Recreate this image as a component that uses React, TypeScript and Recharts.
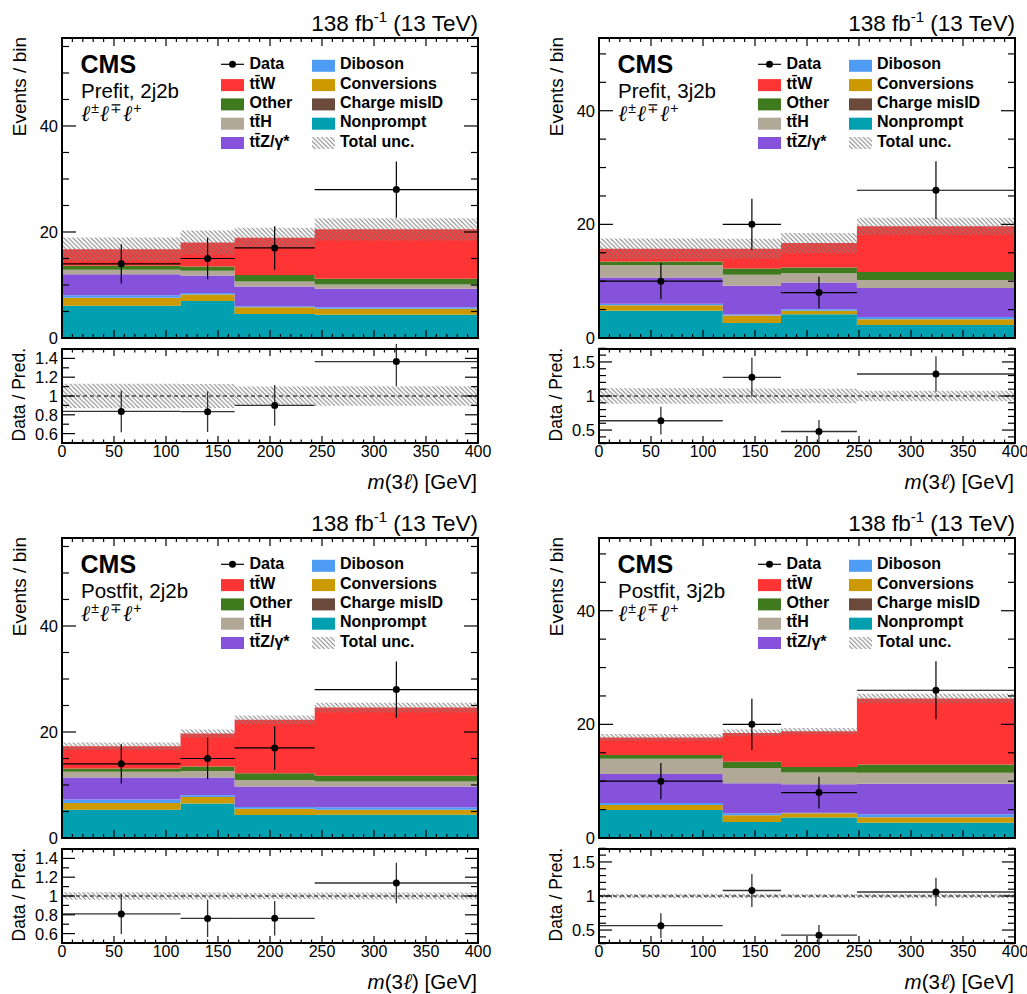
import React from 'react';
import { ComposedChart, Area, Scatter, ErrorBar, XAxis, YAxis, ReferenceLine } from 'recharts';

// ---------------- bin edges (GeV) ----------------
const edges2j2b = [0, 114, 166, 243, 400];
const edges3j2b = [0, 119, 175, 248, 400];

// ---------------- Prefit 2j2b ----------------
const pre2jNonprompt = [6.1, 7.0, 4.55, 4.4];
const pre2jChargeMisID = [0, 0, 0, 0];
const pre2jConversions = [1.5, 1.2, 1.25, 1.1];
const pre2jDiboson = [0.45, 0.3, 0.2, 0.3];
const pre2jTTZ = [4.0, 3.3, 3.7, 3.5];
const pre2jTTH = [0.85, 0.9, 0.95, 0.8];
const pre2jOther = [0.75, 0.8, 1.25, 1.1];
const pre2jTTW = [3.1, 4.5, 7.0, 9.3];
const pre2jUnc = [2.2, 2.3, 1.9, 2.1];

// ---------------- Prefit 3j2b ----------------
const pre3jNonprompt = [4.8, 2.65, 4.2, 2.3];
const pre3jChargeMisID = [0, 0, 0, 0];
const pre3jConversions = [0.95, 1.3, 0.6, 1.0];
const pre3jDiboson = [0.3, 0.2, 0.25, 0.4];
const pre3jTTZ = [4.6, 5.05, 4.7, 5.1];
const pre3jTTH = [2.2, 1.95, 1.65, 1.4];
const pre3jOther = [0.6, 1.1, 1.0, 1.4];
const pre3jTTW = [2.25, 3.45, 4.3, 8.05];
const pre3jUnc = [1.8, 1.75, 1.8, 1.5];

// ---------------- Postfit 2j2b ----------------
const post2jNonprompt = [5.35, 6.5, 4.35, 4.4];
const post2jChargeMisID = [0, 0, 0, 0];
const post2jConversions = [1.25, 1.25, 1.15, 0.95];
const post2jDiboson = [0.65, 0.3, 0.35, 0.45];
const post2jTTZ = [4.15, 3.35, 3.85, 3.9];
const post2jTTH = [1.1, 1.25, 1.25, 0.95];
const post2jOther = [0.6, 0.85, 1.25, 1.1];
const post2jTTW = [4.2, 6.2, 10.1, 12.85];
const post2jUnc = [0.7, 0.75, 0.8, 0.9];

// ---------------- Postfit 3j2b ----------------
const post3jNonprompt = [4.95, 2.8, 3.6, 2.7];
const post3jChargeMisID = [0, 0, 0, 0];
const post3jConversions = [0.85, 1.2, 0.75, 0.95];
const post3jDiboson = [0.35, 0.35, 0.1, 0.55];
const post3jTTZ = [5.1, 5.3, 5.0, 5.35];
const post3jTTH = [2.7, 2.65, 2.1, 1.95];
const post3jOther = [0.65, 1.1, 0.95, 1.45];
const post3jTTW = [3.1, 5.1, 6.3, 11.6];
const post3jUnc = [0.6, 0.6, 0.55, 0.85];

// ---------------- observed data ----------------
const data2j2b = [14, 15, 17, 28];
const data2j2bErr = [3.7, 3.9, 4.1, 5.3];
const data3j2b = [10, 20, 8, 26];
const data3j2bErr = [3.2, 4.5, 2.8, 5.1];

// ---------------- ticks ----------------
const xTicks = [0, 10, 20, 30, 40, 50, 60, 70, 80, 90, 100, 110, 120, 130, 140, 150, 160, 170, 180, 190, 200,
  210, 220, 230, 240, 250, 260, 270, 280, 290, 300, 310, 320, 330, 340, 350, 360, 370, 380, 390, 400];
const xLabels = [0, 50, 100, 150, 200, 250, 300, 350, 400];
const mainYTicks2j = [0, 5, 10, 15, 20, 25, 30, 35, 40, 45, 50, 55];
const mainYTicks3j = [0, 5, 10, 15, 20, 25, 30, 35, 40, 45, 50];
const mainYLabels = [0, 20, 40];
const ratioTicks2j = [0.5, 0.6, 0.7, 0.8, 0.9, 1, 1.1, 1.2, 1.3, 1.4, 1.5];
const ratioLabels2j = [0.6, 0.8, 1, 1.2, 1.4];
const ratioTicks3j = [0.3, 0.4, 0.5, 0.6, 0.7, 0.8, 0.9, 1, 1.1, 1.2, 1.3, 1.4, 1.5, 1.6, 1.7];
const ratioLabels3j = [0.5, 1, 1.5];

// ---------------- legend ----------------
const legendCol1 = ['Data', 'tt\u0304W', 'Other', 'tt\u0304H', 'tt\u0304Z/\u03b3*'];
const legendCol1Keys = ['data', 'ttW', 'other', 'ttH', 'ttZ'];
const legendCol2 = ['Diboson', 'Conversions', 'Charge misID', 'Nonprompt', 'Total unc.'];
const legendCol2Keys = ['diboson', 'conversions', 'chargeMisID', 'nonprompt', 'unc'];

const KEYS = ['nonprompt', 'chargeMisID', 'conversions', 'diboson', 'ttZ', 'ttH', 'other', 'ttW'];
const COLORS: Record<string, string> = {
  nonprompt: '#00A0B0',
  chargeMisID: '#6B4A3C',
  conversions: '#CC9900',
  diboson: '#4F9CF5',
  ttZ: '#8652DC',
  ttH: '#B2A898',
  other: '#3F7A1E',
  ttW: '#FF3434',
};

const FONT = '"Liberation Sans", Arial, Helvetica, sans-serif';
const SERIF = '"Liberation Serif", "DejaVu Serif", serif';

// ---------------- geometry ----------------
const PLOT_W = 416;
const MAIN_H = 300;
const RATIO_H = 94;
const Y_MARGIN = 4;

function buildRows(edges: number[], comps: Record<string, number[]>, unc: number[]) {
  return edges.map((x, i) => {
    const j = Math.min(i, edges.length - 2);
    const row: any = { x };
    let total = 0;
    KEYS.forEach((k) => {
      row[k] = comps[k][j];
      total += comps[k][j];
    });
    row.total = total;
    row.band = [total - unc[j], total + unc[j]];
    row.rband = [1 - unc[j] / total, 1 + unc[j] / total];
    return row;
  });
}

function buildPoints(edges: number[], data: number[], err: number[], rows: any[], ratio: boolean) {
  return data.map((n, i) => {
    const c = (edges[i] + edges[i + 1]) / 2;
    const half = (edges[i + 1] - edges[i]) / 2;
    const t = ratio ? rows[i].total : 1;
    return { x: c, y: n / t, ex: half, ey: err[i] / t };
  });
}

const near = (arr: number[], v: number) => arr.some((a) => Math.abs(a - v) < 1e-6);

function makeXTick(plotH: number, showLabel: boolean, majorLen: number, minorLen: number) {
  return (p: any) => {
    const v = p.payload.value;
    const major = near(xLabels, v);
    const len = major ? majorLen : minorLen;
    const x = p.x;
    const y = p.y;
    return (
      <g>
        <line x1={x} y1={y} x2={x} y2={y - len} stroke="#000" strokeWidth={1.2} />
        <line x1={x} y1={y - plotH} x2={x} y2={y - plotH + len} stroke="#000" strokeWidth={1.2} />
        {showLabel && major ? (
          <text x={x} y={y + 14} textAnchor="middle" fontSize={16} fontFamily={FONT} fill="#000">
            {v}
          </text>
        ) : null}
      </g>
    );
  };
}

function makeYTick(labels: number[], majorLen: number, minorLen: number) {
  return (p: any) => {
    const v = p.payload.value;
    const major = near(labels, v);
    const len = major ? majorLen : minorLen;
    const x0 = p.x + Y_MARGIN;
    const y = p.y;
    return (
      <g>
        <line x1={x0} y1={y} x2={x0 + len} y2={y} stroke="#000" strokeWidth={1.2} />
        <line x1={x0 + PLOT_W} y1={y} x2={x0 + PLOT_W - len} y2={y} stroke="#000" strokeWidth={1.2} />
        {major ? (
          <text x={p.x} y={y} dy="0.36em" textAnchor="end" fontSize={16.5} fontFamily={FONT} fill="#000">
            {String(v)}
          </text>
        ) : null}
      </g>
    );
  };
}

const dotShape = (p: any) => <circle cx={p.cx} cy={p.cy} r={3.5} fill="#000" />;

type Cfg = {
  title: string;
  edges: number[];
  comps: Record<string, number[]>;
  unc: number[];
  data: number[];
  err: number[];
  yMax: number;
  yTicks: number[];
  rDomain: [number, number];
  rTicks: number[];
  rLabels: number[];
};

function Legend() {
  const rowsY = [69.3, 88.6, 107.9, 127.2, 146.5];
  const renderIcon = (key: string, x: number, y: number) => {
    if (key === 'data') {
      return (
        <g>
          <line x1={x} y1={y - 5} x2={x + 23} y2={y - 5} stroke="#000" strokeWidth={1.2} />
          <circle cx={x + 11.5} cy={y - 5} r={3.5} fill="#000" />
        </g>
      );
    }
    if (key === 'unc') {
      return <rect x={x} y={y - 9.5} width={23} height={12} fill="url(#hatch)" />;
    }
    return <rect x={x} y={y - 9.5} width={23} height={12} fill={COLORS[key]} />;
  };
  return (
    <g>
      {legendCol1.map((lab, i) => (
        <g key={'a' + i}>
          {renderIcon(legendCol1Keys[i], 221, rowsY[i])}
          <text x={249.5} y={rowsY[i]} fontSize={16} fontWeight="bold" fontFamily={FONT}>
            {lab}
          </text>
        </g>
      ))}
      {legendCol2.map((lab, i) => (
        <g key={'b' + i}>
          {renderIcon(legendCol2Keys[i], 312, rowsY[i])}
          <text x={340} y={rowsY[i]} fontSize={16} fontWeight="bold" fontFamily={FONT}>
            {lab}
          </text>
        </g>
      ))}
    </g>
  );
}

function Panel({ left, top, cfg }: { left: number; top: number; cfg: Cfg }) {
  const rows = buildRows(cfg.edges, cfg.comps, cfg.unc);
  const pts = buildPoints(cfg.edges, cfg.data, cfg.err, rows, false);
  const rpts = buildPoints(cfg.edges, cfg.data, cfg.err, rows, true);
  return (
    <div style={{ position: 'absolute', left, top, width: 513, height: 497 }}>
      <div style={{ position: 'absolute', left: 12, top: 33 }}>
        <ComposedChart width={486} height={315} data={rows} margin={{ top: 5, right: 20, bottom: 0, left: 0 }}>
          {KEYS.map((k) => (
            <Area
              key={k}
              dataKey={k}
              type="stepAfter"
              stackId="stack"
              stroke="none"
              fill={COLORS[k]}
              fillOpacity={1}
              isAnimationActive={false}
              dot={false}
              activeDot={false}
            />
          ))}
          <Area dataKey="band" type="stepAfter" stroke="none" fill="url(#hatch)" fillOpacity={1} isAnimationActive={false} dot={false} activeDot={false} />
          <Scatter data={pts} dataKey="y" shape={dotShape} isAnimationActive={false}>
            <ErrorBar dataKey="ey" direction="y" width={0} stroke="#000" strokeWidth={1.2} />
            <ErrorBar dataKey="ex" direction="x" width={0} stroke="#000" strokeWidth={1.2} />
          </Scatter>
          <XAxis
            dataKey="x"
            type="number"
            domain={[0, 400]}
            allowDataOverflow
            ticks={xTicks}
            interval={0}
            height={10}
            axisLine={false}
            tickLine={false}
            tickSize={0}
            tickMargin={0}
            tick={makeXTick(MAIN_H, false, 8, 4)}
          />
          <YAxis
            type="number"
            domain={[0, cfg.yMax]}
            allowDataOverflow
            ticks={cfg.yTicks}
            interval={0}
            width={50}
            axisLine={false}
            tickLine={false}
            tickSize={0}
            tickMargin={Y_MARGIN}
            tick={makeYTick(mainYLabels, 14, 7)}
          />
        </ComposedChart>
      </div>
      <div style={{ position: 'absolute', left: 12, top: 344 }}>
        <ComposedChart width={486} height={129} data={rows} margin={{ top: 5, right: 20, bottom: 0, left: 0 }}>
          <Area dataKey="rband" type="stepAfter" stroke="none" fill="url(#hatch)" fillOpacity={1} isAnimationActive={false} dot={false} activeDot={false} />
          <ReferenceLine y={1} stroke="#000" strokeWidth={1} strokeDasharray="4 3" />
          <Scatter data={rpts} dataKey="y" shape={dotShape} isAnimationActive={false}>
            <ErrorBar dataKey="ey" direction="y" width={0} stroke="#333" strokeWidth={1.3} />
            <ErrorBar dataKey="ex" direction="x" width={0} stroke="#333" strokeWidth={1.3} />
          </Scatter>
          <XAxis
            dataKey="x"
            type="number"
            domain={[0, 400]}
            allowDataOverflow
            ticks={xTicks}
            interval={0}
            height={30}
            axisLine={false}
            tickLine={false}
            tickSize={0}
            tickMargin={0}
            tick={makeXTick(RATIO_H, true, 7, 3.5)}
          />
          <YAxis
            type="number"
            domain={cfg.rDomain}
            allowDataOverflow
            ticks={cfg.rTicks}
            interval={0}
            width={50}
            axisLine={false}
            tickLine={false}
            tickSize={0}
            tickMargin={Y_MARGIN}
            tick={makeYTick(cfg.rLabels, 13, 7)}
          />
        </ComposedChart>
      </div>
      <svg width={513} height={497} style={{ position: 'absolute', left: 0, top: 0, pointerEvents: 'none' }}>
        <rect x={62} y={38} width={PLOT_W} height={MAIN_H} fill="none" stroke="#000" strokeWidth={2} />
        <rect x={62} y={349} width={PLOT_W} height={RATIO_H} fill="none" stroke="#000" strokeWidth={2} />
        <text x={478} y={31} textAnchor="end" fontSize={22.5} fontFamily={FONT}>
          138 fb<tspan fontSize={15} dy={-9}>-1</tspan>
          <tspan dy={9}> (13 TeV)</tspan>
        </text>
        <text x={80.5} y={73} fontSize={25} fontWeight="bold" fontFamily={FONT}>
          CMS
        </text>
        <text x={81} y={98} fontSize={20.5} fontFamily={FONT}>
          {cfg.title}
        </text>
        <text x={81} y={121} fontSize={22} fontStyle="italic" fontFamily={SERIF}>
          {'\u2113'}
          <tspan fontSize={14} dx={1} dy={-8} fontStyle="normal" fontFamily={FONT}>{'\u00b1'}</tspan>
          <tspan dx={1} dy={8}>{'\u2113'}</tspan>
          <tspan fontSize={14} dx={1} dy={-8} fontStyle="normal" fontFamily={FONT}>{'\u2213'}</tspan>
          <tspan dx={1} dy={8}>{'\u2113'}</tspan>
          <tspan fontSize={14} dx={1} dy={-8} fontStyle="normal" fontFamily={FONT}>+</tspan>
        </text>
        <Legend />
        <text x={25.5} y={37} transform="rotate(-90 25.5 37)" textAnchor="end" fontSize={19} fontFamily={FONT}>
          Events / bin
        </text>
        <text x={25} y={348} transform="rotate(-90 25 348)" textAnchor="end" fontSize={17.5} fontFamily={FONT}>
          Data / Pred.
        </text>
        <text x={477} y={489} textAnchor="end" fontSize={20.5} fontFamily={FONT}>
          <tspan fontStyle="italic">m</tspan>(3<tspan fontStyle="italic" fontFamily={SERIF} fontSize={22}>{'\u2113'}</tspan>) [GeV]
        </text>
      </svg>
    </div>
  );
}

const cfgPre2j: Cfg = {
  title: 'Prefit, 2j2b',
  edges: edges2j2b,
  comps: {
    nonprompt: pre2jNonprompt, chargeMisID: pre2jChargeMisID, conversions: pre2jConversions, diboson: pre2jDiboson,
    ttZ: pre2jTTZ, ttH: pre2jTTH, other: pre2jOther, ttW: pre2jTTW,
  },
  unc: pre2jUnc,
  data: data2j2b,
  err: data2j2bErr,
  yMax: 56.6,
  yTicks: mainYTicks2j,
  rDomain: [0.5, 1.5],
  rTicks: ratioTicks2j,
  rLabels: ratioLabels2j,
};
const cfgPre3j: Cfg = {
  title: 'Prefit, 3j2b',
  edges: edges3j2b,
  comps: {
    nonprompt: pre3jNonprompt, chargeMisID: pre3jChargeMisID, conversions: pre3jConversions, diboson: pre3jDiboson,
    ttZ: pre3jTTZ, ttH: pre3jTTH, other: pre3jOther, ttW: pre3jTTW,
  },
  unc: pre3jUnc,
  data: data3j2b,
  err: data3j2bErr,
  yMax: 52.8,
  yTicks: mainYTicks3j,
  rDomain: [0.31, 1.69],
  rTicks: ratioTicks3j,
  rLabels: ratioLabels3j,
};
const cfgPost2j: Cfg = {
  title: 'Postfit, 2j2b',
  edges: edges2j2b,
  comps: {
    nonprompt: post2jNonprompt, chargeMisID: post2jChargeMisID, conversions: post2jConversions, diboson: post2jDiboson,
    ttZ: post2jTTZ, ttH: post2jTTH, other: post2jOther, ttW: post2jTTW,
  },
  unc: post2jUnc,
  data: data2j2b,
  err: data2j2bErr,
  yMax: 56.6,
  yTicks: mainYTicks2j,
  rDomain: [0.5, 1.5],
  rTicks: ratioTicks2j,
  rLabels: ratioLabels2j,
};
const cfgPost3j: Cfg = {
  title: 'Postfit, 3j2b',
  edges: edges3j2b,
  comps: {
    nonprompt: post3jNonprompt, chargeMisID: post3jChargeMisID, conversions: post3jConversions, diboson: post3jDiboson,
    ttZ: post3jTTZ, ttH: post3jTTH, other: post3jOther, ttW: post3jTTW,
  },
  unc: post3jUnc,
  data: data3j2b,
  err: data3j2bErr,
  yMax: 52.8,
  yTicks: mainYTicks3j,
  rDomain: [0.31, 1.69],
  rTicks: ratioTicks3j,
  rLabels: ratioLabels3j,
};

export default function App() {
  return (
    <div style={{ position: 'absolute', left: 0, top: 0, width: 1027, height: 994, overflow: 'hidden', background: '#fff' }}>
      <svg width={0} height={0} style={{ position: 'absolute' }}>
        <defs>
          <pattern id="hatch" patternUnits="userSpaceOnUse" width={4.5} height={4.5}>
            <path d="M-1,-1 L5.5,5.5 M-1,3.5 L1,5.5 M3.5,-1 L5.5,1" stroke="#7e7e7e" strokeWidth={1} />
          </pattern>
        </defs>
      </svg>
      <Panel left={0} top={0} cfg={cfgPre2j} />
      <Panel left={537} top={0} cfg={cfgPre3j} />
      <Panel left={0} top={500} cfg={cfgPost2j} />
      <Panel left={537} top={500} cfg={cfgPost3j} />
    </div>
  );
}
